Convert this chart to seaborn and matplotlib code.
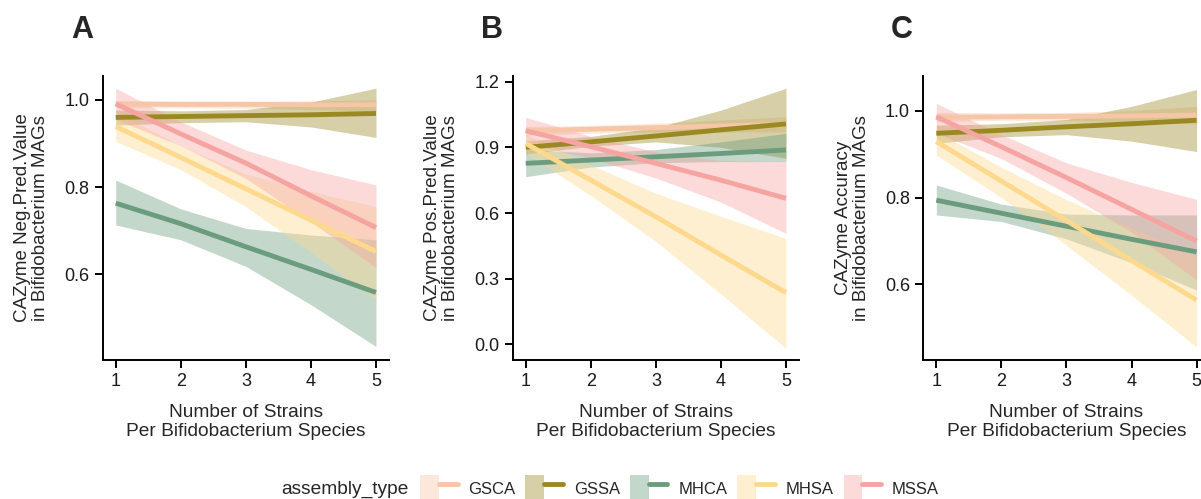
import numpy as np
import pandas as pd
import matplotlib
matplotlib.use("Agg")
import matplotlib.pyplot as plt
from matplotlib.patches import Patch
from matplotlib.lines import Line2D
from matplotlib.legend_handler import HandlerTuple
import seaborn as sns

# ---------------- data ----------------
strains = [1, 2, 3, 4, 5]
assembly_types = ["GSCA", "GSSA", "MHCA", "MHSA", "MSSA"]
type_colors = ["#F6C6A6", "#9A8923", "#6C9C7E", "#FED98D", "#F5A4A1"]

# Panel A: Neg. Pred. Value
npv_fit = {
    "GSCA": [0.991, 0.990, 0.990, 0.989, 0.989],
    "GSSA": [0.960, 0.962, 0.964, 0.966, 0.969],
    "MHCA": [0.763, 0.716, 0.663, 0.611, 0.558],
    "MHSA": [0.939, 0.868, 0.796, 0.724, 0.652],
    "MSSA": [0.991, 0.922, 0.855, 0.780, 0.707],
}
npv_lo = {
    "GSCA": [0.982, 0.982, 0.981, 0.978, 0.975],
    "GSSA": [0.942, 0.948, 0.950, 0.938, 0.914],
    "MHCA": [0.713, 0.679, 0.618, 0.530, 0.434],
    "MHSA": [0.905, 0.840, 0.755, 0.650, 0.541],
    "MSSA": [0.955, 0.895, 0.820, 0.720, 0.615],
}
npv_hi = {
    "GSCA": [0.998, 0.997, 0.997, 0.998, 1.000],
    "GSSA": [0.977, 0.975, 0.978, 0.995, 1.027],
    "MHCA": [0.816, 0.750, 0.705, 0.690, 0.679],
    "MHSA": [0.972, 0.895, 0.830, 0.790, 0.755],
    "MSSA": [1.027, 0.950, 0.885, 0.840, 0.805],
}

# Panel B: Pos. Pred. Value
ppv_fit = {
    "GSCA": [0.975, 0.983, 0.990, 0.998, 1.005],
    "GSSA": [0.900, 0.925, 0.952, 0.980, 1.007],
    "MHCA": [0.827, 0.842, 0.857, 0.872, 0.888],
    "MHSA": [0.918, 0.750, 0.583, 0.408, 0.236],
    "MSSA": [0.976, 0.903, 0.827, 0.750, 0.667],
}
ppv_lo = {
    "GSCA": [0.955, 0.965, 0.970, 0.970, 0.970],
    "GSSA": [0.870, 0.905, 0.925, 0.900, 0.850],
    "MHCA": [0.766, 0.810, 0.830, 0.835, 0.835],
    "MHSA": [0.873, 0.680, 0.470, 0.230, -0.018],
    "MSSA": [0.918, 0.850, 0.760, 0.650, 0.507],
}
ppv_hi = {
    "GSCA": [0.995, 1.000, 1.010, 1.025, 1.040],
    "GSSA": [0.930, 0.950, 0.990, 1.070, 1.170],
    "MHCA": [0.890, 0.875, 0.890, 0.925, 0.964],
    "MHSA": [0.960, 0.820, 0.690, 0.585, 0.484],
    "MSSA": [1.037, 0.950, 0.880, 0.840, 0.835],
}

# Panel C: Accuracy
acc_fit = {
    "GSCA": [0.985, 0.986, 0.987, 0.988, 0.990],
    "GSSA": [0.948, 0.955, 0.963, 0.970, 0.978],
    "MHCA": [0.794, 0.764, 0.734, 0.704, 0.675],
    "MHSA": [0.929, 0.838, 0.747, 0.655, 0.564],
    "MSSA": [0.986, 0.917, 0.846, 0.773, 0.700],
}
acc_lo = {
    "GSCA": [0.975, 0.978, 0.978, 0.975, 0.970],
    "GSSA": [0.925, 0.940, 0.945, 0.930, 0.906],
    "MHCA": [0.760, 0.745, 0.705, 0.650, 0.587],
    "MHSA": [0.898, 0.800, 0.690, 0.575, 0.456],
    "MSSA": [0.948, 0.890, 0.810, 0.720, 0.610],
}
acc_hi = {
    "GSCA": [0.996, 0.995, 0.996, 1.000, 1.010],
    "GSSA": [0.967, 0.970, 0.980, 1.010, 1.049],
    "MHCA": [0.829, 0.785, 0.762, 0.760, 0.760],
    "MHSA": [0.952, 0.870, 0.795, 0.730, 0.664],
    "MSSA": [1.017, 0.945, 0.880, 0.835, 0.796],
}

panel_letters = ["A", "B", "C"]
y_titles = [
    "CAZyme Neg.Pred.Value\nin Bifidobacterium MAGs",
    "CAZyme Pos.Pred.Value\nin Bifidobacterium MAGs",
    "CAZyme Accuracy\nin Bifidobacterium MAGs",
]
x_title = "Number of Strains\nPer Bifidobacterium Species"
y_ticks = [[0.6, 0.8, 1.0], [0.0, 0.3, 0.6, 0.9, 1.2], [0.6, 0.8, 1.0]]
y_limits = [(0.403, 1.055), (-0.0715, 1.226), (0.426, 1.080)]
legend_title = "assembly_type"

# ---------------- styling ----------------
sns.set_theme(style="ticks")
plt.rcParams["font.family"] = ["Liberation Sans", "DejaVu Sans"]
plt.rcParams["axes.edgecolor"] = "black"
plt.rcParams["axes.linewidth"] = 1.4
plt.rcParams["xtick.major.width"] = 1.4
plt.rcParams["ytick.major.width"] = 1.4
plt.rcParams["xtick.major.size"] = 5.5
plt.rcParams["ytick.major.size"] = 5.5
plt.rcParams["xtick.color"] = "black"
plt.rcParams["ytick.color"] = "black"

W, H = 1201, 499
fig = plt.figure(figsize=(W / 100, H / 100), dpi=100)
palette = dict(zip(assembly_types, type_colors))

panels = [(npv_fit, npv_lo, npv_hi), (ppv_fit, ppv_lo, ppv_hi), (acc_fit, acc_lo, acc_hi)]
ax_lefts = [102.7, 512.7, 923.3]
ax_w = 286.3
ax_top, ax_bot = 76, 360
letter_x = [71, 481, 891]

for i, (fit, lo, hi) in enumerate(panels):
    ax = fig.add_axes([ax_lefts[i] / W, 1 - ax_bot / H, ax_w / W, (ax_bot - ax_top) / H])
    for t in assembly_types:
        c = palette[t]
        ax.fill_between(strains, lo[t], hi[t], color=c, alpha=0.4, lw=0)
        df = pd.DataFrame({"strains": strains, "value": fit[t], "assembly_type": t})
        sns.lineplot(data=df, x="strains", y="value", color=c, lw=3.5, ax=ax,
                     legend=False, solid_capstyle="butt")
    ax.set_xlim(0.8, 5.2)
    ax.set_ylim(*y_limits[i])
    ax.set_xticks(strains)
    ax.set_yticks(y_ticks[i])
    ax.set_yticklabels([f"{v:.1f}" for v in y_ticks[i]])
    ax.tick_params(labelsize=13, colors="black", pad=4)
    for lab in ax.get_xticklabels() + ax.get_yticklabels():
        lab.set_color("#1a1a1a")
    ax.set_xlabel(x_title, fontsize=13.8, labelpad=10, linespacing=1.15)
    ax.set_ylabel(y_titles[i], fontsize=13.5, labelpad=11, linespacing=1.05)
    sns.despine(ax=ax)
    fig.text(letter_x[i] / W, 1 - 38 / H, panel_letters[i], fontsize=22,
             fontweight="bold", ha="left", va="baseline")

# ---------------- legend ----------------
handles = [(Patch(facecolor=c, alpha=0.4, lw=0), Line2D([], [], color=c, lw=3.5))
           for c in type_colors]
leg = fig.legend(handles, assembly_types, loc="center left",
                 bbox_to_anchor=(420 / W, 1 - 489 / H), ncol=5, frameon=False,
                 fontsize=12, handlelength=2.25, handleheight=2.25,
                 handletextpad=0.65, columnspacing=0.6, borderpad=0, borderaxespad=0,
                 handler_map={tuple: HandlerTuple(ndivide=None, pad=0)})
fig.text(409 / W, 1 - 489 / H, legend_title, fontsize=13.8, ha="right", va="center")

fig.savefig("out.png", dpi=100)
